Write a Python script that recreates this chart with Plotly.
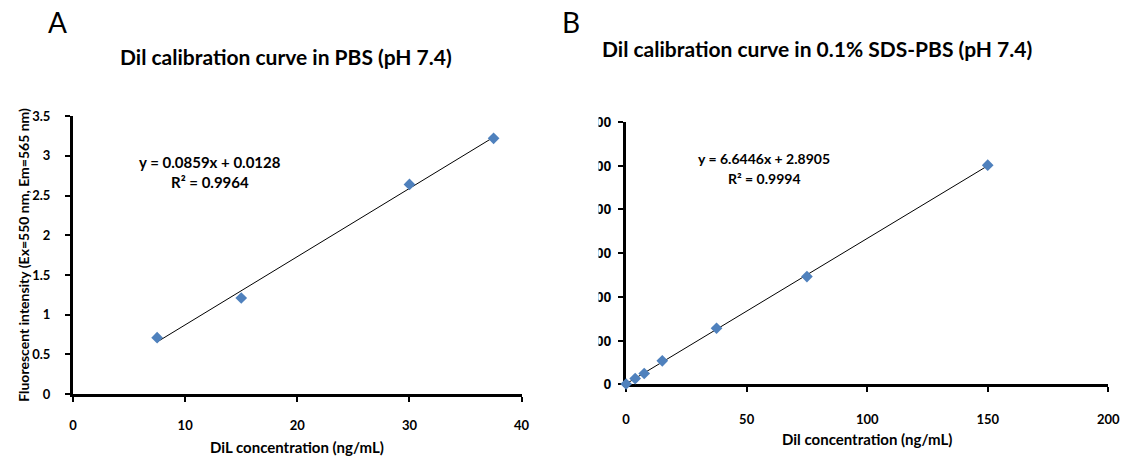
import plotly.graph_objects as go

# Calibration data in PBS (pH 7.4)
conc_pbs = [7.5, 15, 30, 37.5]
fluor_pbs = [0.71, 1.21, 2.64, 3.22]
slope_pbs, icpt_pbs, r2_pbs = 0.0859, 0.0128, 0.9964

# Calibration data in 0.1% SDS-PBS (pH 7.4)
conc_sds = [0, 3.75, 7.5, 15, 37.5, 75, 150]
fluor_sds = [2, 27, 50, 108, 257, 493, 1002]
slope_sds, icpt_sds, r2_sds = 6.6446, 2.8905, 0.9994

W, H = 1138, 461
BLUE = "#4F81BD"
TXT = "Lato"


def px(x):
    return x / W


def py(y):
    return 1 - y / H


def fit_line(xs, m, b):
    x0, x1 = min(xs), max(xs)
    return [x0, x1], [m * x0 + b, m * x1 + b]


fig = go.Figure()

lx, ly = fit_line(conc_pbs, slope_pbs, icpt_pbs)
fig.add_trace(go.Scatter(x=lx, y=ly, mode="lines", line=dict(color="black", width=1),
                         xaxis="x", yaxis="y", showlegend=False, hoverinfo="skip",
                         cliponaxis=False))
fig.add_trace(go.Scatter(x=conc_pbs, y=fluor_pbs, mode="markers",
                         marker=dict(symbol="diamond", size=9, color=BLUE),
                         xaxis="x", yaxis="y", showlegend=False, cliponaxis=False))

rx, ry = fit_line(conc_sds, slope_sds, icpt_sds)
fig.add_trace(go.Scatter(x=rx, y=ry, mode="lines", line=dict(color="black", width=1),
                         xaxis="x2", yaxis="y2", showlegend=False, hoverinfo="skip",
                         cliponaxis=False))
fig.add_trace(go.Scatter(x=conc_sds, y=fluor_sds, mode="markers",
                         marker=dict(symbol="diamond", size=9, color=BLUE),
                         xaxis="x2", yaxis="y2", showlegend=False, cliponaxis=False))

axis_common = dict(showgrid=False, zeroline=False, showline=True, linecolor="black",
                   linewidth=3, ticks="outside", ticklen=5, tickwidth=2,
                   tickcolor="black", layer="below traces")
tick_font = dict(family=TXT, size=13, color="black", weight="bold")
tick_font_r = dict(family="Liberation Sans", size=14, color="black", weight="bold")

fig.update_layout(
    width=W, height=H,
    margin=dict(l=0, r=0, t=0, b=0),
    paper_bgcolor="white", plot_bgcolor="white",
    xaxis=dict(domain=[px(70), px(525)], range=[0, 40], tickvals=[0, 10, 20, 30, 40],
               anchor="y", tickfont=tick_font, ticklabelstandoff=12, **axis_common),
    yaxis=dict(domain=[py(400), py(112)], range=[0, 3.5],
               tickvals=[0, 0.5, 1, 1.5, 2, 2.5, 3, 3.5],
               anchor="x", tickfont=tick_font, ticklabelstandoff=12, **axis_common),
    xaxis2=dict(domain=[px(631), px(1120)], range=[0, 200],
                tickvals=[0, 50, 100, 150, 200],
                anchor="y2", tickfont=tick_font, ticklabelstandoff=16, **axis_common),
    yaxis2=dict(domain=[py(390), py(118)], range=[0, 1200],
                tickvals=[0, 200, 400, 600, 800, 1000, 1200],
                anchor="x2", tickfont=tick_font_r, ticklabelstandoff=4, **axis_common),
)

# panel B was cropped on its left edge, hiding the leading digits of its y labels
fig.add_shape(type="rect", xref="paper", yref="paper",
              x0=px(540), x1=px(603), y0=py(405), y1=py(100),
              fillcolor="white", line=dict(width=0), layer="above")

bold = dict(color="black", weight="bold", family=TXT)
ann = [
    dict(text="A", x=px(54), y=py(15), font=dict(family=TXT, size=28, color="black")),
    dict(text="B", x=px(575), y=py(15), font=dict(family=TXT, size=28, color="black")),
    dict(text="Dil calibration curve in PBS (pH 7.4)", x=px(286), y=py(50),
         font=dict(size=21, **bold)),
    dict(text="Dil calibration curve in 0.1% SDS-PBS (pH 7.4)", x=px(825), y=py(42),
         font=dict(size=21, **bold)),
    dict(text=f"y = {slope_pbs}x + {icpt_pbs}", x=px(209), y=py(160),
         font=dict(size=15, **bold)),
    dict(text=f"R² = {r2_pbs}", x=px(209), y=py(180),
         font=dict(size=15, **bold)),
    dict(text=f"y = {slope_sds}x + {icpt_sds}", x=px(771), y=py(156),
         font=dict(size=14, **bold)),
    dict(text=f"R² = {r2_sds}", x=px(771), y=py(177),
         font=dict(size=14, **bold)),
    dict(text="DiL concentration (ng/mL)", x=px(297), y=py(455),
         font=dict(size=15, **bold)),
    dict(text="Dil concentration (ng/mL)", x=px(875), y=py(446),
         font=dict(size=15, **bold)),
    dict(text="Fluorescent intensity (Ex=550 nm, Em=565 nm)", x=px(19), y=py(256),
         textangle=-90, font=dict(size=14, **bold)),
]
for a in ann:
    a.update(xref="paper", yref="paper", showarrow=False, xanchor="center", yanchor="middle")
    fig.add_annotation(**a)

fig.write_html("out.html")
